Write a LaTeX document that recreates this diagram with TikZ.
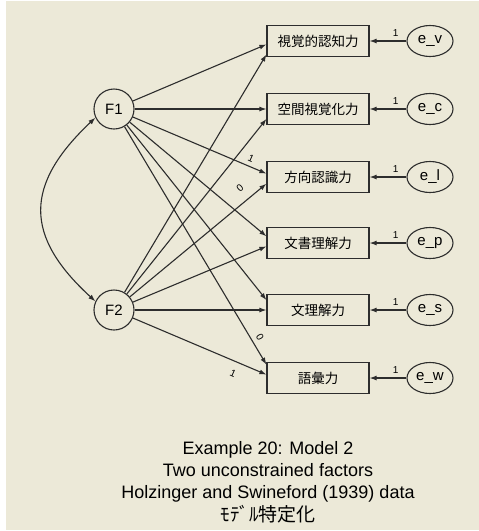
\documentclass[tikz,border=0pt]{standalone}
\usepackage{fontspec}
\setmainfont{Liberation Sans}
\newfontfamily\jp{Noto Sans CJK JP}
\usepackage{tikz}
\usetikzlibrary{arrows.meta,shapes.geometric}
\definecolor{panel}{RGB}{236,233,216}
\definecolor{ink}{RGB}{45,45,45}
\tikzset{
	obs/.style={draw=ink, line width=1.2pt, rectangle, minimum width=102pt, minimum height=31pt, inner sep=0pt, font=\jp\fontsize{13.5}{14}\selectfont},
	lat/.style={draw=ink, line width=1.1pt, circle, minimum size=40pt, inner sep=0pt, font=\fontsize{15}{16}\selectfont},
	err/.style={draw=ink, line width=1.1pt, ellipse, minimum width=46pt, minimum height=31pt, inner sep=0pt, font=\fontsize{15}{16}\selectfont},
	load/.style={draw=ink, line width=1.1pt, -{Latex[length=7pt,width=5pt]}},
	cov/.style={draw=ink, line width=1.1pt, {Latex[length=7pt,width=5pt]}-{Latex[length=7pt,width=5pt]}},
	one/.style={inner sep=1pt, font=\fontsize{10}{10}\selectfont},
	captxt/.style={anchor=base, inner sep=0pt, font=\fontsize{18}{20}\selectfont}
}
\begin{document}
\begin{tikzpicture}[x=1pt,y=-1pt]
		\useasboundingbox (0,0) rectangle (479,531);
		\fill[white] (0,0) rectangle (479,531);
		\fill[panel] (6,1) rectangle (479,530);
		% factors
		\node[lat] (F1) at (114,109) {F1};
		\node[lat] (F2) at (114,310) {F2};
		% observed variables
		\node[obs] (vis) at (318,41) {視覚的認知力};
		\node[obs] (spa) at (318,109) {空間視覚化力};
		\node[obs] (dir) at (318,177) {方向認識力};
		\node[obs] (doc) at (318,243) {文書理解力};
		\node[obs] (sen) at (318,310) {文理解力};
		\node[obs] (voc) at (318,378) {語彙力};
		% errors
		\node[err] (ev) at (430,41) {e\_v};
		\node[err] (ec) at (430,109) {e\_c};
		\node[err] (el) at (430,177) {e\_l};
		\node[err] (ep) at (430,243) {e\_p};
		\node[err] (es) at (430,310) {e\_s};
		\node[err] (ew) at (430,378) {e\_w};
		\draw[load] (ev) -- node[one, pos=0.29, above=3pt] (lv) {1} (vis);
		\draw[load] (ec) -- node[one, pos=0.29, above=3pt] (lc) {1} (spa);
		\draw[load] (el) -- node[one, pos=0.29, above=3pt] (ll) {1} (dir);
		\draw[load] (ep) -- node[one, pos=0.29, above=3pt] (lp) {1} (doc);
		\draw[load] (es) -- node[one, pos=0.29, above=3pt] (ls) {1} (sen);
		\draw[load] (ew) -- node[one, pos=0.29, above=3pt] (lw) {1} (voc);
		% loadings of F1
		\draw[load] (F1) -- ([yshift=-3.4pt]vis.west);
		\draw[load] (F1) -- (spa.west);
		\draw[load] (F1) -- ([yshift=3.4pt]dir.west);
		\draw[load] (F1) -- ([yshift=6.7pt]doc.west);
		\draw[load] (F1) -- ([yshift=10pt]sen.west);
		\draw[load] (F1) -- ([yshift=13.4pt]voc.west);
		% loadings of F2
		\draw[load] (F2) -- ([yshift=-13.5pt]vis.west);
		\draw[load] (F2) -- ([yshift=-10pt]spa.west);
		\draw[load] (F2) -- ([yshift=-6.7pt]dir.west);
		\draw[load] (F2) -- ([yshift=-3.4pt]doc.west);
		\draw[load] (F2) -- (sen.west);
		\draw[load] (F2) -- ([yshift=3.4pt]voc.west);
		\node[one, rotate=-24] (a1) at (251,158) {1};
		\node[one, rotate=41] (a2) at (240,188) {0};
		\node[one, rotate=-60] (a3) at (260,337) {0};
		\node[one, rotate=-24] (a4) at (233,373) {1};
		% covariance
		\draw[cov] (F1.205) .. controls (24,185) and (24,236) .. (F2.155);
		% caption
		\node[captxt] (t1) at (268,454) {Example 20: Model 2};
		\node[captxt] (t2) at (268,476) {Two unconstrained factors};
		\node[captxt] (t3) at (268,498) {Holzinger and Swineford (1939) data};
		\node[captxt, font=\jp\fontsize{19}{20}\selectfont] (t4) at (268,521) {ﾓﾃﾞﾙ特定化};
	\end{tikzpicture}
\end{document}
